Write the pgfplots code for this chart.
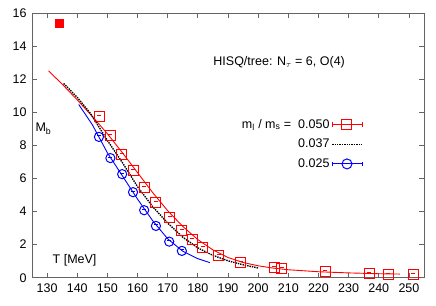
\documentclass[border=0pt]{standalone}
\usepackage{pgfplots}
\pgfplotsset{compat=1.18}
\usepackage{fontspec}
\setmainfont{Liberation Sans}
\definecolor{frame}{RGB}{100,100,100}
\pgfplotstableread{
T M
147.3 9.72
150.9 8.59
154.8 7.44
158.5 6.48
162.2 5.45
166.1 4.55
170.6 3.66
174.7 2.85
178.2 2.33
181.7 1.84
186.9 1.36
194.2 0.91
205.3 0.63
207.9 0.57
222.3 0.35
236.8 0.28
243.1 0.22
251.4 0.21
}\redtab
\pgfplotstableread{
T M
147.2 8.51
151.0 7.23
154.9 6.26
158.5 5.17
162.2 4.08
166.1 3.13
170.5 2.18
174.7 1.62
}\bluetab
\begin{document}
\fontsize{12.5}{15}\selectfont
\begin{tikzpicture}
\path[use as bounding box] (0,0) rectangle (436pt,305pt);
\begin{axis}[
  at={(32pt,27.3pt)}, anchor=south west,
  scale only axis, width=392pt, height=264.7pt,
  xmin=125, xmax=255, ymin=0, ymax=16,
  xtick={130,140,...,250}, ytick={0,2,...,16},
  tick align=inside, major tick length=5pt,
  axis line style={frame, line width=0.8pt},
  tick style={frame, line width=0.8pt},
  /pgf/number format/assume math mode=true,
  ticklabel style={font=\fontsize{12.5}{15}\selectfont},
  xticklabel style={yshift=-2pt},
  yticklabel style={xshift=-1pt},
  legend style={at={(axis cs:234.8,9.72)}, anchor=north east, draw=none, fill=none,
    inner sep=0pt, font=\fontsize{12.5}{15}\selectfont, row sep=5pt,
    /tikz/every even column/.append style={column sep=4pt}},
  legend plot pos=right, legend cell align=right,
]
% fit curves
\addplot[red, line width=0.9pt, no marks, forget plot] coordinates {
(130.5,12.5)(135,11.7)(140,10.75)(145,9.75)(150,8.7)(155,7.55)(160,6.35)(165,5.15)
(170,4.05)(175,3.1)(180,2.3)(185,1.68)(190,1.22)(195,0.92)(200,0.72)(205,0.58)
(210,0.48)(220,0.36)(230,0.29)(240,0.24)(247,0.22)};
\addplot[blue, line width=0.9pt, no marks, forget plot] coordinates {
(140.5,10.47)(145,9.25)(150,7.55)(155,6.15)(160,4.75)(165,3.45)(170,2.35)(175,1.6)(180,1.15)(184,0.91)};
% data 0.050
\addplot[red, only marks, mark=square, mark size=5pt, line width=1pt, forget plot] table[x=T,y=M] {\redtab};
\addplot[red, only marks, mark=-, mark size=2pt, line width=1pt, mark options={yshift=1pt}, forget plot] table[x=T,y=M] {\redtab};
\addlegendimage{color=red, legend image code/.code={
  \draw[color=red, line width=1pt] (0pt,0pt) -- (30pt,0pt);
  \draw[color=red, line width=1pt] (0pt,-2.3pt) -- (0pt,2.3pt) (30pt,-2.3pt) -- (30pt,2.3pt);
  \draw[color=red, line width=1pt] (9.8pt,-5pt) rectangle (19.8pt,5pt);}}
\addlegendentry{m\textsubscript{l} / m\textsubscript{s} =\ \ 0.050}
\addplot[black, densely dotted, line width=1.4pt, no marks, forget plot] coordinates {
(135.5,11.74)(140,10.9)(144.3,9.95)(150,8.3)(152.6,7.6)(155,6.95)(160,5.5)(165,4.3)
(170,3.3)(175,2.45)(180,1.8)(185,1.35)(190,1.02)(195,0.78)(200,0.59)};
\addlegendimage{color=black, legend image code/.code={
  \draw[color=black, densely dotted, line width=1.4pt] (0pt,0pt) -- (30pt,0pt);}}
\addlegendentry{0.037}
\addplot[blue, only marks, mark=o, mark size=4.6pt, line width=1pt, forget plot] table[x=T,y=M] {\bluetab};
\addplot[blue, only marks, mark=-, mark size=2pt, line width=1pt, mark options={yshift=1pt}, forget plot] table[x=T,y=M] {\bluetab};
\addlegendimage{color=blue, legend image code/.code={
  \draw[color=blue, line width=1pt] (0pt,0pt) -- (30pt,0pt);
  \draw[color=blue, line width=1pt] (0pt,-2.3pt) -- (0pt,2.3pt) (30pt,-2.3pt) -- (30pt,2.3pt);
  \draw[color=blue, line width=1pt] (14.8pt,0pt) circle (5pt);}}
\addlegendentry{0.025}
\addplot[red, only marks, mark=square*, mark size=4pt, forget plot] coordinates {(133.9,15.4)};
\node[anchor=west, inner sep=0pt] at (axis cs:185.1,13.0) {HISQ/tree: N\textsubscript{$\tau$} = 6, O(4)};
\node[anchor=west, inner sep=0pt] at (axis cs:126.1,9.0) {M\textsubscript{b}};
\node[anchor=west, inner sep=0pt] at (axis cs:131.8,1.05) {T [MeV]};
\end{axis}
\end{tikzpicture}
\end{document}
